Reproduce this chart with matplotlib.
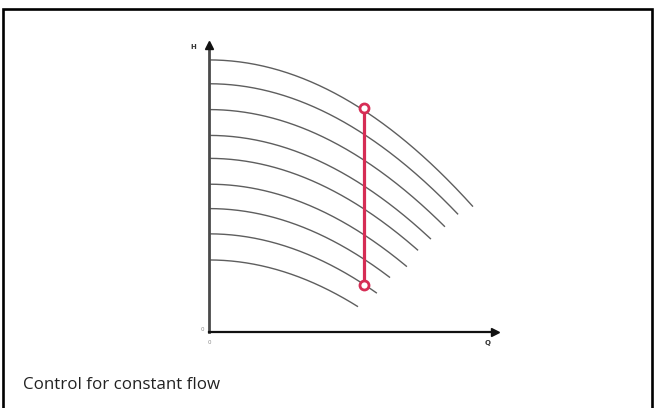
import matplotlib
matplotlib.use("Agg")
import matplotlib.pyplot as plt
import numpy as np
from matplotlib.patches import Rectangle

# Pump curves (Q and H normalised to the axis length)
shutoff_head = [0.948, 0.865, 0.775, 0.685, 0.605, 0.515, 0.430, 0.342, 0.251]
end_flow = [0.923, 0.871, 0.825, 0.776, 0.731, 0.692, 0.633, 0.587, 0.521]
curve_k = 0.60  # H = H0 - k*Q^2

# Constant-flow control line
control_flow = [0.542, 0.542]
control_head = [0.782, 0.164]

axis_labels = {"x": "Q", "y": "H", "origin": "0"}
caption = "Control for constant flow"

fig = plt.figure(figsize=(6.56, 4.08), dpi=100)
fig.patch.set_facecolor("white")

# frame
fig.patches.append(Rectangle((2.5 / 656, -0.05), (652 - 2.5) / 656, 1.05 - 9.5 / 408,
                             transform=fig.transFigure, fill=False,
                             edgecolor="black", linewidth=1.9))

ax = fig.add_axes([209 / 656, (408 - 332) / 408, 286 / 656, 287 / 408])
ax.set_xlim(0, 1)
ax.set_ylim(0, 1)
ax.axis("off")

for h0, qe in zip(shutoff_head, end_flow):
    q = np.linspace(0, qe, 200)
    ax.plot(q, h0 - curve_k * q ** 2, color="#5e5e5e", lw=1.0,
            solid_capstyle="butt", clip_on=False)

# axes with arrows
ax.plot([0, 0], [0, 0.985], color="#4a4a4a", lw=2.0, clip_on=False, zorder=3)
ax.plot([0, 0.99], [0, 0], color="#111111", lw=1.6, clip_on=False, zorder=3)
ax.plot([0], [1.0], marker="^", color="#111111", markersize=6, clip_on=False, zorder=4)
ax.plot([1.0], [0], marker=">", color="#111111", markersize=6, clip_on=False, zorder=4)

# control line
ax.plot(control_flow, control_head, color="#d62d55", lw=2.3, zorder=5, clip_on=False)
ax.plot(control_flow, control_head, linestyle="none", marker="o", markersize=6.5,
        markerfacecolor="white", markeredgecolor="#d62d55", markeredgewidth=2.0,
        zorder=6, clip_on=False)

# small axis labels
ax.text(-0.055, 0.992, axis_labels["y"], fontsize=5, color="#333333",
        ha="center", va="center", fontweight="bold")
ax.text(0.975, -0.04, axis_labels["x"], fontsize=5, color="#333333",
        ha="center", va="center", fontweight="bold")
ax.text(-0.022, 0.01, axis_labels["origin"], fontsize=4, color="#888888",
        ha="center", va="center")
ax.text(0.0, -0.035, axis_labels["origin"], fontsize=4, color="#888888",
        ha="center", va="center")

fig.text(23 / 656, 1 - 385 / 408, caption, fontsize=12.2, family="Open Sans",
         color="#222222", ha="left", va="center")

fig.savefig("out.png", dpi=100, facecolor="white")
